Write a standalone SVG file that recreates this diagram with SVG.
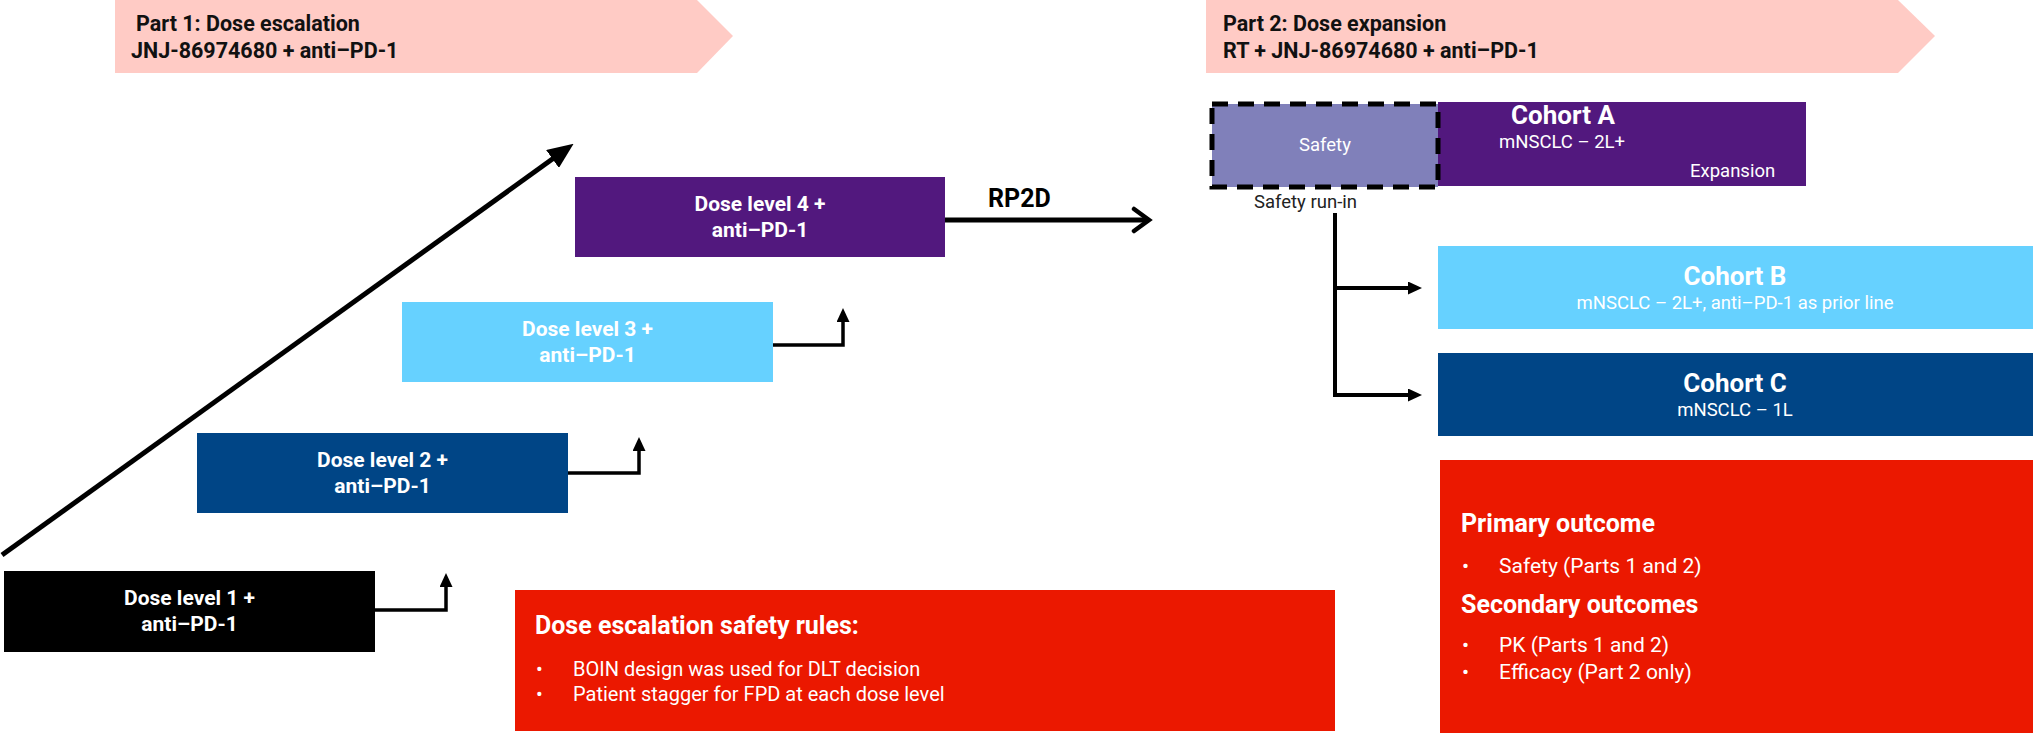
<svg xmlns="http://www.w3.org/2000/svg" width="2033" height="733" viewBox="0 0 2033 733">
  <style>
    text { font-family: Roboto, "Liberation Sans", Arial, sans-serif; }
    .b { font-weight: bold; }
    .w { fill: #ffffff; }
    .k { fill: #000000; }
    .dl { font-size: 21px; font-weight: bold; fill: #ffffff; text-anchor: middle; }
    .ban { font-size: 21.5px; font-weight: bold; fill: #111111; }
    .conn { fill: none; stroke: #000000; stroke-width: 3.5; }
    .br { fill: none; stroke: #000000; stroke-width: 4; }
    .ch { font-size: 26px; font-weight: bold; fill: #ffffff; text-anchor: middle; }
    .cs { font-size: 18.5px; fill: #ffffff; }
    .bt { font-size: 21px; fill: #ffffff; }
    .rt { font-size: 20px; fill: #ffffff; }
    .hd { font-size: 25px; font-weight: bold; fill: #ffffff; }
  </style>
  <defs>
    <marker id="tri" markerUnits="userSpaceOnUse" markerWidth="14" markerHeight="13" refX="6" refY="6.5" orient="auto">
      <path d="M0,0 L14,6.5 L0,13 z" fill="#000000"/>
    </marker>
    <marker id="bigtri" markerUnits="userSpaceOnUse" markerWidth="26" markerHeight="22" refX="8" refY="11" orient="auto">
      <path d="M0,0 L26,11 L0,22 z" fill="#000000"/>
    </marker>
    <marker id="chev" markerUnits="userSpaceOnUse" markerWidth="22" markerHeight="28" refX="18" refY="14" orient="auto">
      <path d="M3,3 L18,14 L3,25" fill="none" stroke="#000000" stroke-width="4.5" stroke-linecap="round" stroke-linejoin="miter"/>
    </marker>
  </defs>

  <g id="banner1">
    <path d="M115,0 H697 L733,36 L697,73 H115 z" fill="#FFCBC5"/>
    <text class="ban" x="136" y="31">Part 1: Dose escalation</text>
    <text class="ban" x="131" y="58">JNJ-86974680 + anti–PD-1</text>
  </g>

  <g id="banner2">
    <path d="M1206,0 H1898 L1935,36 L1898,73 H1206 z" fill="#FFCBC5"/>
    <text class="ban" x="1223" y="31" font-size="22.5">Part 2: Dose expansion</text>
    <text class="ban" x="1223" y="58" font-size="22.5">RT + JNJ-86974680 + anti–PD-1</text>
  </g>

  <g id="dose1">
    <rect x="4" y="571" width="371" height="81" fill="#000000"/>
    <text class="dl" x="189.5" y="605">Dose level 1 +</text>
    <text class="dl" x="189.5" y="631">anti–PD-1</text>
  </g>

  <g id="dose2">
    <rect x="197" y="433" width="371" height="80" fill="#004586"/>
    <text class="dl" x="382.5" y="467">Dose level 2 +</text>
    <text class="dl" x="382.5" y="493">anti–PD-1</text>
  </g>

  <g id="dose3">
    <rect x="402" y="302" width="371" height="80" fill="#66D1FF"/>
    <text class="dl" x="587.5" y="336">Dose level 3 +</text>
    <text class="dl" x="587.5" y="362">anti–PD-1</text>
  </g>

  <g id="dose4">
    <rect x="575" y="177" width="370" height="80" fill="#52187E"/>
    <text class="dl" x="760" y="211">Dose level 4 +</text>
    <text class="dl" x="760" y="237">anti–PD-1</text>
  </g>

  <g id="safety">
    <rect x="1438" y="102" width="368" height="84" fill="#52187E"/>
    <rect x="1212" y="104" width="226" height="83" fill="#8080BA" stroke="#000000" stroke-width="5" stroke-dasharray="16 10"/>
    <text class="cs" x="1325" y="151" text-anchor="middle">Safety</text>
    <text x="1254" y="208" font-size="18.5" fill="#222222">Safety run-in</text>
  </g>

  <g id="cohortA">
    <text class="ch" x="1563" y="124">Cohort A</text>
    <text class="cs" x="1499" y="148">mNSCLC – 2L+</text>
    <text class="cs" x="1690" y="177">Expansion</text>
  </g>

  <g id="cohortB">
    <rect x="1438" y="246" width="595" height="83" fill="#66D1FF"/>
    <text class="ch" x="1735" y="285">Cohort B</text>
    <text class="cs" x="1735" y="309" text-anchor="middle">mNSCLC – 2L+, anti–PD-1 as prior line</text>
  </g>

  <g id="cohortC">
    <rect x="1438" y="353" width="595" height="83" fill="#004586"/>
    <text class="ch" x="1735" y="392">Cohort C</text>
    <text class="cs" x="1735" y="416" text-anchor="middle">mNSCLC – 1L</text>
  </g>

  <g id="rules">
    <rect x="515" y="590" width="820" height="141" fill="#EB1800"/>
    <text class="hd" x="535" y="634">Dose escalation safety rules:</text>
    <text class="rt" x="536" y="676">•</text>
    <text class="rt" x="573" y="676">BOIN design was used for DLT decision</text>
    <text class="rt" x="536" y="701">•</text>
    <text class="rt" x="573" y="701">Patient stagger for FPD at each dose level</text>
  </g>

  <g id="outcomes">
    <rect x="1440" y="460" width="593" height="273" fill="#EB1800"/>
    <text class="hd" x="1461" y="532">Primary outcome</text>
    <text class="bt" x="1462" y="573">•</text>
    <text class="bt" x="1499" y="573">Safety (Parts 1 and 2)</text>
    <text class="hd" x="1461" y="613">Secondary outcomes</text>
    <text class="bt" x="1462" y="652">•</text>
    <text class="bt" x="1499" y="652">PK (Parts 1 and 2)</text>
    <text class="bt" x="1462" y="679">•</text>
    <text class="bt" x="1499" y="679">Efficacy (Part 2 only)</text>
  </g>

  <g id="connectors">
    <line x1="2" y1="555" x2="559" y2="154.3" stroke="#000000" stroke-width="5" marker-end="url(#bigtri)"/>
    <path class="conn" d="M375,610 H446 V581" marker-end="url(#tri)"/>
    <path class="conn" d="M568,473 H639 V445" marker-end="url(#tri)"/>
    <path class="conn" d="M773,345 H843 V316" marker-end="url(#tri)"/>
    <line x1="945" y1="220" x2="1149" y2="220" stroke="#000000" stroke-width="5" marker-end="url(#chev)"/>
    <text class="b k" x="988" y="207" font-size="25">RP2D</text>
    <path class="br" d="M1335,213 V395 H1414" marker-end="url(#tri)"/>
    <path class="br" d="M1335,288 H1414" marker-end="url(#tri)"/>
  </g>
</svg>
